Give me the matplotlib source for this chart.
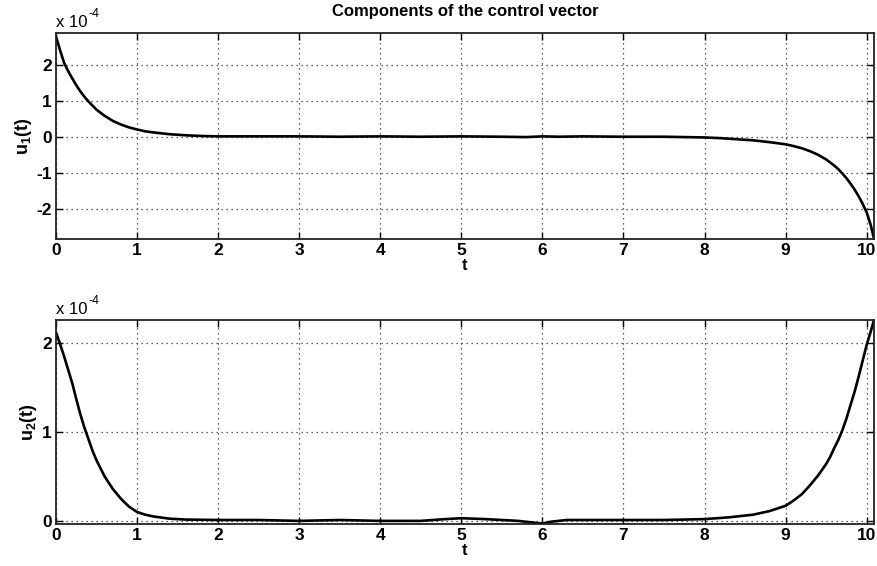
import matplotlib
matplotlib.use("Agg")
import matplotlib.pyplot as plt

plt.rcParams['font.family'] = ['Liberation Sans', 'DejaVu Sans']
plt.rcParams['mathtext.fontset'] = 'custom'
plt.rcParams['mathtext.rm'] = 'Liberation Sans:bold'
plt.rcParams['mathtext.bf'] = 'Liberation Sans:bold'
plt.rcParams['axes.unicode_minus'] = False

# Control components, in units of 1e-4
t1 = [0, 0.05, 0.1, 0.15, 0.2, 0.25, 0.3, 0.35, 0.4, 0.5, 0.6, 0.7, 0.8, 0.9,
      1.0, 1.1, 1.2, 1.4, 1.6, 1.8, 2.0, 2.5, 3.0, 3.5, 4.0, 4.5, 5.0, 5.5,
      5.8, 6.0, 6.2, 6.5, 7.0, 7.5, 8.0, 8.2, 8.4, 8.6, 8.8, 9.0, 9.1, 9.2,
      9.3, 9.4, 9.5, 9.6, 9.65, 9.7, 9.75, 9.8, 9.85, 9.9, 9.95, 10.0, 10.05,
      10.09]
u1 = [2.78, 2.4, 2.05, 1.82, 1.62, 1.43, 1.26, 1.11, 0.98, 0.75, 0.58, 0.44,
      0.34, 0.26, 0.20, 0.15, 0.12, 0.07, 0.04, 0.02, 0.01, 0.01, 0.01, 0.0,
      0.01, 0.0, 0.01, 0.0, -0.01, 0.01, 0.0, 0.01, 0.0, 0.0, -0.02, -0.04,
      -0.07, -0.10, -0.15, -0.21, -0.26, -0.32, -0.40, -0.50, -0.63, -0.80,
      -0.90, -1.02, -1.15, -1.30, -1.46, -1.65, -1.86, -2.10, -2.45, -2.83]

t2 = [0, 0.05, 0.1, 0.15, 0.2, 0.25, 0.3, 0.35, 0.4, 0.45, 0.5, 0.55, 0.6,
      0.7, 0.8, 0.9, 1.0, 1.1, 1.2, 1.4, 1.6, 2.0, 2.5, 3.0, 3.5, 4.0, 4.5,
      4.8, 5.0, 5.3, 5.7, 5.9, 6.0, 6.1, 6.3, 7.0, 7.5, 8.0, 8.3, 8.6, 8.8,
      9.0, 9.1, 9.2, 9.3, 9.4, 9.5, 9.55, 9.6, 9.65, 9.7, 9.75, 9.8, 9.85,
      9.9, 9.95, 10.0, 10.05, 10.09]
u2 = [2.12, 1.99, 1.85, 1.70, 1.55, 1.37, 1.20, 1.05, 0.92, 0.79, 0.68,
      0.59, 0.50, 0.36, 0.25, 0.16, 0.10, 0.07, 0.05, 0.025, 0.015, 0.01,
      0.01, 0.0, 0.01, 0.0, 0.0, 0.02, 0.03, 0.02, 0.0, -0.02, -0.03, -0.01,
      0.01, 0.01, 0.01, 0.02, 0.04, 0.07, 0.11, 0.17, 0.23, 0.30, 0.40, 0.51,
      0.64, 0.72, 0.82, 0.91, 1.02, 1.15, 1.30, 1.45, 1.62, 1.80, 1.98, 2.13,
      2.26]

x_ticks = [0, 1, 2, 3, 4, 5, 6, 7, 8, 9, 10]
y1_ticks = [-2, -1, 0, 1, 2]
y2_ticks = [0, 1, 2]

fig = plt.figure(figsize=(8.78, 5.66), dpi=100)
ax1 = fig.add_axes([0.0638, 0.5777, 0.9316, 0.3640])
ax2 = fig.add_axes([0.0638, 0.0742, 0.9316, 0.3604])

panels = [
    (ax1, t1, u1, y1_ticks, (-2.84, 2.88), r'u$_\mathregular{1}$(t)'),
    (ax2, t2, u2, y2_ticks, (-0.035, 2.26), r'u$_\mathregular{2}$(t)'),
]

for ax, t, u, yt, ylim, ylab in panels:
    ax.plot(t, u, color='black', lw=1.9, solid_joinstyle='round')
    ax.set_xlim(0, 10.09)
    ax.set_ylim(*ylim)
    ax.set_xticks(x_ticks)
    ax.set_yticks(yt)
    ax.grid(True, color='#333333', linestyle=(0, (1, 3)), linewidth=0.9)
    ax.tick_params(direction='in', top=True, right=True, length=5,
                   width=1.0, labelsize=12.5, pad=3)
    for lbl in ax.get_xticklabels() + ax.get_yticklabels():
        lbl.set_fontweight('bold')
    for s in ax.spines.values():
        s.set_linewidth(1.3)
        s.set_color('#222222')
    ax.set_xlabel('t', fontsize=12, fontweight='bold', labelpad=0)
    ax.set_ylabel(ylab, fontsize=13, fontweight='bold', labelpad=2)
    # scale factor shown above the y axis: "x 10" with a raised "-4"
    ax.text(0.0, 1.015, 'x 10', transform=ax.transAxes,
            fontsize=12, ha='left', va='bottom')
    ax.annotate('-4', xy=(0.0, 1.015), xycoords='axes fraction',
                xytext=(23.5, 7), textcoords='offset points',
                fontsize=9, ha='left', va='bottom')

ax1.set_title('Components of the control vector', fontsize=12,
              fontweight='bold', pad=12)

fig.savefig('out.png', dpi=100)
